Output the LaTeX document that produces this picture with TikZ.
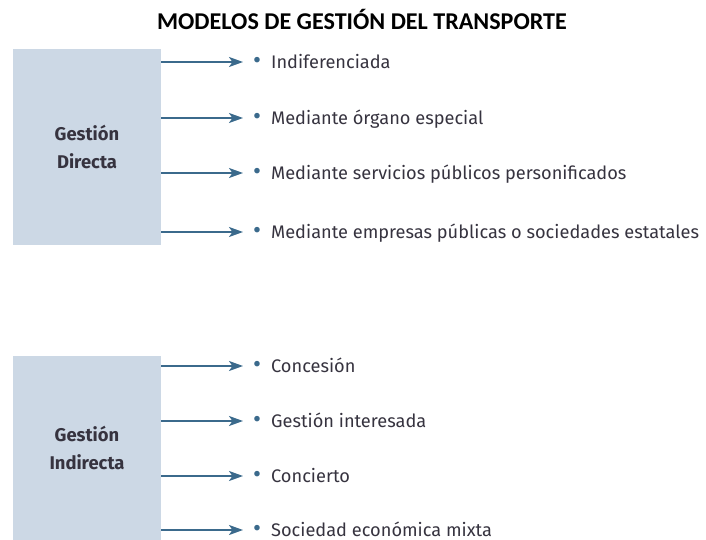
\documentclass[tikz,border=0pt]{standalone}
\usepackage{fontspec}
\setmainfont{Fira Sans}
\newfontfamily\titlefont{Carlito}
\usetikzlibrary{arrows.meta,positioning}
\definecolor{cajagris}{HTML}{CCD8E5}
\definecolor{flecha}{HTML}{3B6A8C}
\definecolor{texto}{HTML}{36333F}
\newcommand{\vineta}{\textcolor{flecha}{\scalebox{1.35}{\textbullet}}\hspace{10pt}}
\tikzset{
  caja/.style={fill=cajagris, minimum width=148pt, inner sep=0pt, align=center,
    font=\bfseries\fontsize{18.4}{28}\selectfont, text=texto},
  item/.style={anchor=west, inner sep=0pt, text height=12.5pt, text depth=0pt,
    font=\fontsize{18.2}{21}\selectfont, text=texto},
  rama/.style={->, draw=flecha, line width=1.8pt, shorten >=10pt},
}
\begin{document}
\begin{tikzpicture}[x=1pt, y=-1pt, >={Stealth[length=14pt,width=10pt,inset=3.5pt]}]
			\useasboundingbox (0,0) rectangle (706,540);
			\node[font=\titlefont\bfseries\fontsize{24.1}{27}\selectfont] (titulo) at (362,19) {MODELOS DE GESTIÓN DEL TRANSPORTE};
			% gestion directa
			\node[caja, minimum height=196pt] (directa) at (87,147) {Gestión\\Directa};
			\node[item] (d1) at (253,62) {\vineta Indiferenciada};
			\node[item] (d2) at (253,118) {\vineta Mediante órgano especial};
			\node[item] (d3) at (253,173) {\vineta Mediante servicios públicos personificados};
			\node[item] (d4) at (253,232) {\vineta Mediante empresas públicas o sociedades estatales};
			\draw[rama] (directa.east |- d1.west) -- (d1.west);
			\draw[rama] (directa.east |- d2.west) -- (d2.west);
			\draw[rama] (directa.east |- d3.west) -- (d3.west);
			\draw[rama] (directa.east |- d4.west) -- (d4.west);
			% gestion indirecta
			\node[caja, minimum height=184pt] (indirecta) at (87,448) {Gestión\\Indirecta};
			\node[item] (i1) at (253,366) {\vineta Concesión};
			\node[item] (i2) at (253,421) {\vineta Gestión interesada};
			\node[item] (i3) at (253,476) {\vineta Concierto};
			\node[item] (i4) at (253,530) {\vineta Sociedad económica mixta};
			\draw[rama] (indirecta.east |- i1.west) -- (i1.west);
			\draw[rama] (indirecta.east |- i2.west) -- (i2.west);
			\draw[rama] (indirecta.east |- i3.west) -- (i3.west);
			\draw[rama] (indirecta.east |- i4.west) -- (i4.west);
\end{tikzpicture}
\end{document}
